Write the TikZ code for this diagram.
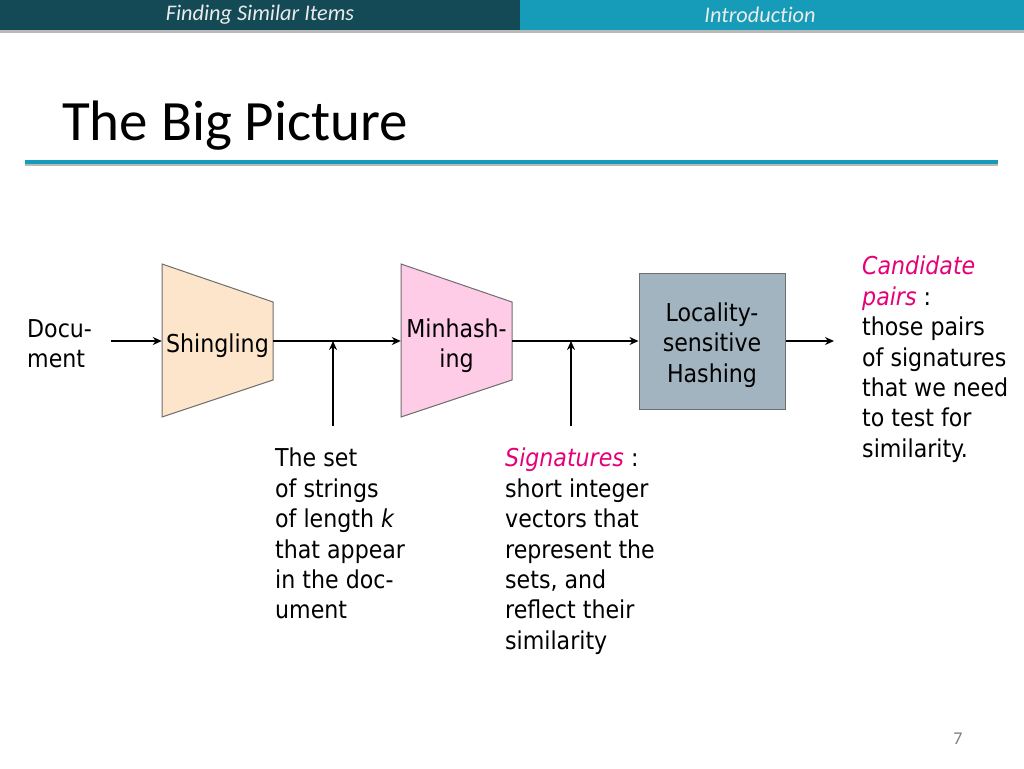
\documentclass[tikz,border=0pt]{standalone}
\usepackage{fontspec}
\setmainfont{DejaVu Sans Condensed}
\newfontfamily\calib[Ligatures=NoCommon]{Carlito}
\usetikzlibrary{arrows.meta}
\definecolor{darkteal}{RGB}{19,74,85}
\definecolor{lightteal}{RGB}{22,156,184}
\definecolor{shadowgray}{RGB}{185,185,185}
\definecolor{peach}{RGB}{253,229,203}
\definecolor{pinkfill}{RGB}{255,204,232}
\definecolor{lshfill}{RGB}{162,180,192}
\definecolor{edgegray}{RGB}{110,110,110}
\definecolor{magentatext}{RGB}{230,0,120}
\tikzset{
  body/.style={font=\fontsize{24.6}{30.4}\selectfont, inner sep=0pt, align=left, anchor=north west},
  boxtext/.style={font=\fontsize{24.6}{30.4}\selectfont, inner sep=0pt, align=center},
  conn/.style={line width=1.5pt, -{Stealth[length=9pt,width=8pt]}},
  shapeedge/.style={draw=edgegray, line width=1pt}
}
\begin{document}
\begin{tikzpicture}[x=1pt,y=-1pt]
\useasboundingbox (0,0) rectangle (1024,768);
\fill[white] (0,0) rectangle (1024,768);
% header
\fill[shadowgray] (0,29) rectangle (1024,33);
\fill[darkteal] (0,0) rectangle (520,30);
\fill[lightteal] (520,0) rectangle (1024,30);
\node[text=white!92!black, font=\calib\itshape\fontsize{22.3}{26}\selectfont] (h1) at (260,15) {Finding Similar Items};
\node[text=white!92!black, font=\calib\itshape\fontsize{22.3}{26}\selectfont] (h2) at (760,15) {Introduction};
% title
\node[anchor=base west, inner sep=0pt, font=\calib\fontsize{57}{60}\selectfont] (title) at (62,140) {The Big Picture};
\fill[shadowgray] (25,162) rectangle (998,166);
\fill[lightteal] (25,160) rectangle (998,164);
% shapes
\filldraw[shapeedge, fill=peach] (162,264) -- (273,302) -- (273,380) -- (162,417) -- cycle;
\filldraw[shapeedge, fill=pinkfill] (401,264) -- (512,302) -- (512,380) -- (401,417) -- cycle;
\node[inner sep=0pt, minimum width=111pt, minimum height=153pt] (shing) at (217.5,341) {};
\node[inner sep=0pt, minimum width=111pt, minimum height=153pt] (minh) at (456.5,341) {};
\node[draw=edgegray, line width=1pt, fill=lshfill, inner sep=0pt, minimum width=146pt, minimum height=136pt] (lsh) at (712,341) {};
\node[boxtext, yshift=-5pt] (shingtxt) at (shing) {Shingling};
\node[boxtext, yshift=-5pt] (minhtxt) at (minh) {Minhash-\\ing};
\node[boxtext, yshift=-4pt] (lshtxt) at (lsh) {Locality-\\sensitive\\Hashing};
% labels
\node[body] (doc) at (27,319) {Docu-\\ment};
\node[body] (setlbl) at (275,448) {The set\\of strings\\of length \textit{k}\\that appear\\in the doc-\\ument};
\node[body] (siglbl) at (505,448) {\textcolor{magentatext}{\textit{Signatures}} :\\short integer\\vectors that\\represent the\\sets, and\\reflect their\\similarity};
\node[body] (candlbl) at (862,256) {\textcolor{magentatext}{\textit{Candidate}}\\\textcolor{magentatext}{\textit{pairs}} :\\those pairs\\of signatures\\that we need\\to test for\\similarity.};
% connectors
\coordinate (docend) at (111,341);
\coordinate (setbot) at (333,426);
\coordinate (settop) at (333,341);
\coordinate (sigbot) at (571,426);
\coordinate (sigtop) at (571,341);
\coordinate (outend) at (834,341);
\draw[conn] (docend) -- (shing.west);
\draw[conn] (shing.east) -- (minh.west);
\draw[conn] (minh.east) -- (lsh.west);
\draw[conn] (lsh.east) -- (outend);
\draw[conn] (setbot) -- (settop);
\draw[conn] (sigbot) -- (sigtop);
% page number
\node[text=gray, font=\calib\fontsize{18}{20}\selectfont] (pg) at (958,739) {7};
\end{tikzpicture}
\end{document}
